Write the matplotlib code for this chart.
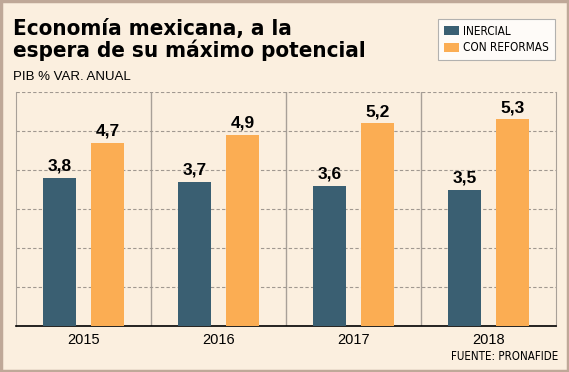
import numpy as np
import matplotlib.pyplot as plt

years = ["2015", "2016", "2017", "2018"]
inercial = [3.8, 3.7, 3.6, 3.5]
reformas = [4.7, 4.9, 5.2, 5.3]
labels_inercial = ["3,8", "3,7", "3,6", "3,5"]
labels_reformas = ["4,7", "4,9", "5,2", "5,3"]

bg = "#FBEFDF"
c_in = "#3A5F72"
c_ref = "#FBAD53"
plt.rcParams["font.family"] = ["Liberation Sans", "DejaVu Sans"]

fig = plt.figure(figsize=(5.69, 3.72), dpi=100, facecolor=bg)
ax = fig.add_axes([16/569, 1-326/372, 540/569, 234/372])
ax.set_facecolor(bg)

x = np.arange(len(years))
w = 0.245
off = 0.178
b1 = ax.bar(x - off, inercial, w, color=c_in, label="INERCIAL", zorder=3)
b2 = ax.bar(x + off, reformas, w, color=c_ref, label="CON REFORMAS", zorder=3)

for xi, v, t in zip(x - off, inercial, labels_inercial):
    ax.text(xi, v + 0.18, t, ha="center", va="baseline", fontsize=12.5, fontweight="bold")
for xi, v, t in zip(x + off, reformas, labels_reformas):
    ax.text(xi, v + 0.18, t, ha="center", va="baseline", fontsize=12.5, fontweight="bold")

ax.set_xlim(-0.5, len(years) - 0.5)
ax.set_ylim(0, 6)
ax.set_yticks(np.arange(0, 7, 1))
ax.set_yticklabels([])
ax.tick_params(axis="y", length=0)
ax.tick_params(axis="x", length=0, labelsize=10.5, pad=5)
ax.set_xticks(x)
ax.set_xticklabels(years)
ax.grid(axis="y", color="#A09890", linestyle=(0, (3, 2)), linewidth=0.8, zorder=0)
for sep in x[:-1] + 0.5:
    ax.axvline(sep, color="#A8A098", linewidth=1, zorder=1)
for s in ["left", "right"]:
    ax.spines[s].set_color("#A8A098")
ax.spines["top"].set_visible(False)
ax.spines["bottom"].set_color("black")
ax.spines["bottom"].set_linewidth(1.2)

fig.text(13/569, 1-35/372, "Economía mexicana, a la", ha="left", va="baseline",
         fontsize=16, fontweight="bold", family="DejaVu Sans", fontstretch="condensed")
fig.text(13/569, 1-57/372, "espera de su máximo potencial", ha="left", va="baseline",
         fontsize=16, fontweight="bold", family="DejaVu Sans", fontstretch="condensed")
fig.text(13/569, 1-77/372, "PIB % VAR. ANUAL", ha="left", va="center", fontsize=9.5)
fig.text(558/569, 1-356/372, "FUENTE: PRONAFIDE", ha="right", va="center", fontsize=8.3,
         family="DejaVu Sans", fontstretch="condensed")

leg = fig.legend(handles=[b1, b2], loc="upper right", bbox_to_anchor=(555/569, 1-19/372),
                 frameon=True, fancybox=False,
                 prop={"family": "DejaVu Sans", "stretch": "condensed", "size": 8.5},
                 handlelength=1.25, handleheight=0.8, borderpad=0.5, labelspacing=0.3,
                 handletextpad=0.4, borderaxespad=0)
leg.get_frame().set_edgecolor("#A0A0A0")
leg.get_frame().set_linewidth(0.8)

fig.patches.append(plt.Rectangle((0.002, 0.003), 0.996, 0.994, transform=fig.transFigure,
                                 fill=False, edgecolor="#BFA898", linewidth=2.5))

fig.savefig("out.png", dpi=100, facecolor=bg)
